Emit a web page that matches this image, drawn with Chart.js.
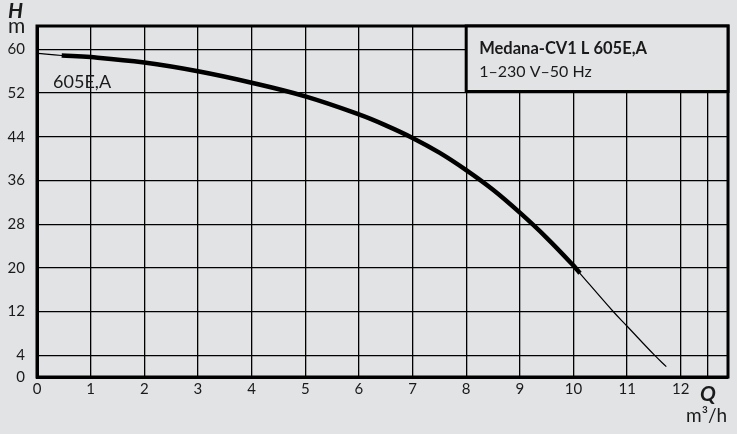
<!DOCTYPE html>
<html lang="en">
<head>
  <meta charset="UTF-8" />
  <title>Medana-CV1 L 605E,A</title>
  <style>
    body {
      margin: 0;
      padding: 0;
      background: #e2e3e5;
      font-family: 'Lato', sans-serif;
    }
    .wrap {
      position: relative;
      width: 737px;
      height: 434px;
    }
  </style>
</head>
<body>
  <div class="wrap">
    <canvas id="curveChart"></canvas>
  </div>

  <script src="https://cdn.jsdelivr.net/npm/chart.js"></script>
  <script>
    // pump curve read from the data sheet (Q in m3/h, H in m)
    const qValues = [0, 0.46, 1, 2, 3, 4, 5, 6, 6.5, 7, 7.5, 8, 8.5, 9, 9.5, 10, 10.12, 10.74, 11, 11.51, 11.73];
    const hValues = [59.3, 58.9, 58.6, 57.6, 56.0, 53.9, 51.4, 48.1, 46.1, 43.8, 41.1, 37.9, 34.3, 30.1, 25.5, 20.4, 19.0, 12, 9.3, 4, 1.9];
    const dutyRange = [0.46, 10.12];   // thick part of the curve
    const xTicks = [0, 1, 2, 3, 4, 5, 6, 7, 8, 9, 10, 11, 12, 12.5];
    const yTicks = [0, 4, 12, 20, 28, 36, 44, 52, 60];
    const curveName = '605E,A';
    const boxTitle = 'Medana-CV1 L 605E,A';
    const boxSub = '1\u2013230 V\u201350 Hz';

    const allPoints = qValues.map((q, i) => ({ x: q, y: hValues[i] }));
    const dutyPoints = allPoints.filter(p => p.x >= dutyRange[0] && p.x <= dutyRange[1]);

    const extras = {
      id: 'extras',
      afterDraw(chart) {
        const { ctx, chartArea: a, scales: { x, y } } = chart;
        ctx.save();

        // frame
        ctx.strokeStyle = '#000';
        ctx.lineWidth = 3;
        ctx.strokeRect(a.left, a.top, a.right - a.left, a.bottom - a.top);

        // info box
        const bx = x.getPixelForValue(8);
        const by = y.getPixelForValue(52.3);
        ctx.fillStyle = '#e2e3e5';
        ctx.fillRect(bx, a.top, a.right - bx, by - a.top);
        ctx.strokeRect(bx, a.top, a.right - bx, by - a.top);
        ctx.fillStyle = '#1a1a1a';
        ctx.textBaseline = 'alphabetic';
        ctx.textAlign = 'left';
        ctx.font = 'bold 16.5px Lato';
        ctx.fillText(boxTitle, bx + 13, a.top + 28);
        ctx.font = '16px Lato';
        ctx.fillText(boxSub, bx + 13, a.top + 51);

        // curve name
        ctx.font = '18px Lato';
        ctx.textBaseline = 'middle';
        ctx.fillText(curveName, x.getPixelForValue(0.3), y.getPixelForValue(54));

        // axis titles
        ctx.textBaseline = 'alphabetic';
        ctx.font = 'italic bold 21px Lato';
        ctx.fillText('H', 8, 18);
        ctx.fillText('Q', 700, 401);
        ctx.font = '21px Lato';
        ctx.fillText('m', 8, 33);
        ctx.font = '19px Lato';
        ctx.fillText('m\u00b3/h', 686, 422);
        ctx.restore();
      }
    };

    const ctx = document.getElementById('curveChart').getContext('2d');
    new Chart(ctx, {
      type: 'scatter',
      data: {
        datasets: [{
          label: 'full',
          data: allPoints,
          showLine: true,
          borderColor: '#000',
          borderWidth: 1.2,
          pointRadius: 0,
          tension: 0.4
        }, {
          label: 'duty',
          data: dutyPoints,
          showLine: true,
          borderColor: '#000',
          borderWidth: 4.5,
          pointRadius: 0,
          tension: 0.4
        }]
      },
      options: {
        responsive: true,
        maintainAspectRatio: false,
        animation: false,
        layout: { padding: { top: 26, right: 9, left: 0, bottom: 0 } },
        plugins: {
          legend: { display: false },
          tooltip: { enabled: false }
        },
        scales: {
          x: {
            type: 'linear',
            min: 0,
            max: 12.88,
            afterBuildTicks: s => { s.ticks = xTicks.map(v => ({ value: v })); },
            afterFit: s => { s.height = 57; },
            grid: { color: '#000', lineWidth: 1.3, drawTicks: false },
            border: { color: '#000', width: 3 },
            ticks: {
              color: '#1a1a1a',
              font: { family: 'Lato', size: 15 },
              padding: 3,
              maxRotation: 0,
              callback: v => (v === 12.5 ? '' : v)
            }
          },
          y: {
            min: 0,
            max: 64.3,
            afterBuildTicks: s => { s.ticks = yTicks.map(v => ({ value: v })); },
            afterFit: s => { s.width = 37; },
            grid: { color: '#000', lineWidth: 1.3, drawTicks: false },
            border: { color: '#000', width: 3 },
            ticks: {
              color: '#1a1a1a',
              font: { family: 'Lato', size: 15 },
              padding: 12
            }
          }
        }
      },
      plugins: [extras]
    });
  </script>
</body>
</html>
